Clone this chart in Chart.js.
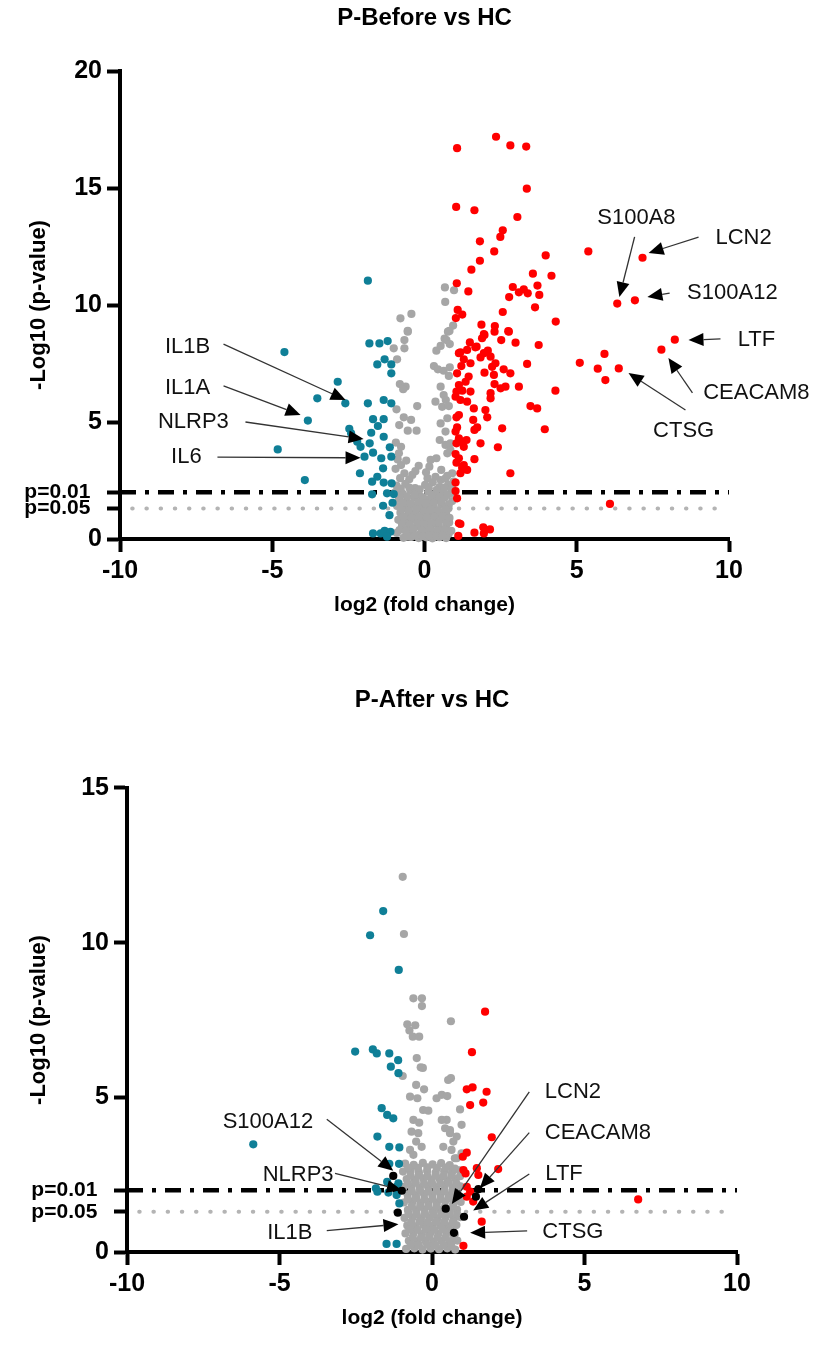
<!DOCTYPE html>
<html>
<head>
<meta charset="utf-8">
<script src="https://cdn.jsdelivr.net/npm/chart.js@4.4.1/dist/chart.umd.min.js"></script>
<style>
  html, body { margin: 0; padding: 0; background: #fff; }
  #wrap { position: relative; width: 819px; height: 1348px; }
  #c1 { position: absolute; left: 0; top: 0; }
  #c2 { position: absolute; left: 0; top: 660px; }
</style>
</head>
<body>
<div id="wrap">
  <canvas id="c1" width="819" height="650"></canvas>
  <canvas id="c2" width="819" height="688"></canvas>
</div>
<script>
// volcano plots: P-Before vs HC (top) and P-After vs HC (bottom)
// points are [log2 fold change, -log10 p]

const P01 = 2;    // -log10(0.01)
const P05 = 1.3;  // -log10(0.05)
const xTicks = [-10, -5, 0, 5, 10];
const yTicksBefore = [0, P05, P01, 5, 10, 15, 20];
const yTicksAfter = [0, P05, P01, 5, 10, 15];
const lineSpan01 = [-10, 10];
const lineSpan05 = [-9.6, 9.7];

// ---------- P-Before vs HC
const beforeUp = [
  [1.07,16.70],[2.35,17.19],[2.82,16.82],[3.34,16.77],[3.36,14.97],[1.04,14.19],[1.64,14.05],[3.05,13.76],
  [2.57,13.19],[2.49,12.91],[1.82,12.72],[2.29,12.29],[3.98,12.12],[5.38,12.29],[7.16,12.02],[1.82,11.89],
  [1.54,11.51],[3.56,11.34],[4.17,11.25],[1.06,10.93],[1.44,10.58],[2.90,10.77],[3.10,10.54],[3.26,10.67],
  [3.39,10.50],[3.71,10.83],[3.77,10.43],[2.78,10.34],[6.33,10.06],[6.91,10.20],[3.63,9.90],[2.57,9.70],
  [1.09,9.79],[1.24,9.59],[1.03,9.44],[4.31,9.29],[1.87,9.16],[2.31,9.10],[2.75,8.88],[1.97,8.72],
  [2.30,8.86],[2.77,8.86],[2.52,8.50],[2.99,8.39],[3.75,8.29],[1.95,8.76],[1.89,8.58],[1.49,8.40],
  [1.67,8.19],[8.22,8.52],[7.78,8.09],[1.13,7.94],[1.40,8.08],[1.71,8.22],[1.95,7.94],[2.08,8.05],
  [1.84,7.76],[2.17,7.79],[1.18,7.98],[5.91,7.91],[5.10,7.53],[5.69,7.28],[6.38,7.29],[5.94,6.79],
  [1.29,7.68],[1.51,7.51],[1.21,7.39],[2.33,7.51],[2.22,7.36],[2.60,7.25],[3.37,7.48],[1.07,7.08],
  [1.45,6.94],[1.97,7.11],[2.28,7.01],[2.82,7.08],[1.35,6.72],[1.13,6.58],[2.30,6.62],[2.50,6.44],
  [2.66,6.51],[3.10,6.51],[4.30,6.34],[1.05,6.30],[1.24,6.34],[1.51,6.30],[1.02,6.08],[1.18,5.94],
  [1.40,5.87],[2.17,6.23],[2.17,6.01],[1.62,5.58],[2.00,5.51],[2.06,5.20],[1.05,5.20],[1.13,5.30],
  [3.48,5.68],[3.70,5.58],[1.60,5.09],[1.73,4.77],[1.64,4.66],[1.07,4.77],[1.02,4.59],[2.55,4.73],
  [3.95,4.69],[1.13,4.30],[1.24,4.16],[1.38,4.23],[1.05,4.09],[1.29,3.94],[1.84,4.09],[2.41,3.92],
  [1.02,3.63],[1.13,3.45],[1.05,3.26],[1.29,3.16],[1.24,3.06],[1.64,3.41],[1.25,3.02],[1.40,2.95],
  [1.18,2.81],[2.82,2.81],[1.02,2.41],[1.02,2.05],[1.07,1.74],[6.09,1.50],[1.13,0.67],[1.18,0.64],
  [1.64,0.27],[1.93,0.50],[1.95,0.24],[2.15,0.41],[1.11,0.13]
];
const beforeDown = [
  [-4.60,7.99],[-1.86,11.04],[-1.81,8.36],[-1.48,8.36],[-1.21,8.46],[-1.55,7.46],[-1.31,7.68],[-1.09,7.46],
  [-1.09,7.08],[-2.85,6.72],[-3.52,6.01],[-2.60,5.80],[-1.86,5.80],[-1.34,5.94],[-1.09,5.80],[-3.83,5.06],
  [-1.69,5.12],[-1.34,5.12],[-1.53,4.83],[-2.47,4.71],[-2.41,4.52],[-1.75,4.54],[-1.34,4.37],[-2.21,4.16],
  [-2.10,3.94],[-1.80,4.09],[-4.82,3.83],[-1.97,3.52],[-1.69,3.69],[-1.42,3.45],[-1.14,3.92],[-1.09,3.52],
  [-1.36,3.02],[-2.12,2.81],[-1.55,2.66],[-1.72,2.45],[-1.34,2.41],[-1.08,2.38],[-3.93,2.52],[-1.72,1.91],
  [-1.23,1.95],[-1.01,1.92],[-1.36,1.42],[-1.05,1.55],[-1.15,1.02],[-1.69,0.24],[-1.44,0.24],[-1.31,0.35],
  [-1.12,0.31],[-1.23,0.10]
];
const beforeGrey = [
  [-0.79,9.43],[-0.55,8.89],[-0.43,9.62],[0.67,10.75],[0.97,10.63],[0.68,10.13],[0.94,9.12],[0.82,8.89],
  [0.66,8.56],[-1.01,8.15],[-0.66,8.15],[-0.55,8.86],[0.77,8.86],[-0.66,8.50],[0.53,8.25],[0.72,8.50],
  [0.83,8.33],[0.39,8.05],[-0.90,7.68],[0.31,7.39],[0.44,7.25],[0.63,7.19],[0.83,7.34],[0.80,6.97],
  [-0.81,6.62],[-0.62,6.51],[-0.70,6.40],[0.53,6.51],[0.63,6.15],[0.70,5.94],[0.36,5.87],[0.58,5.65],
  [0.80,5.68],[-0.24,5.68],[-0.92,5.54],[-0.68,5.20],[-0.44,5.09],[-0.83,4.87],[-0.55,4.63],[-0.26,4.63],
  [0.53,4.94],[0.75,5.16],[0.69,4.59],[-0.94,4.12],[-0.77,3.94],[-0.84,3.66],[0.50,4.23],[0.69,4.02],
  [0.85,4.09],[0.75,3.66],[0.85,3.80],[-0.19,3.13],[0.16,3.09],[0.20,3.38],[0.39,3.45],[-0.77,3.16],
  [-0.66,2.81],[-0.40,2.74],[0.36,2.66],[0.53,2.52],[0.69,2.59],[0.91,2.81],[0.96,2.45],[-0.88,3.40],
  [-0.95,3.00],[-0.60,3.35],[-0.80,2.60],[-0.50,2.55],[0.10,2.60],[0.75,2.70],[-0.30,2.90],[0.05,2.85],
  [0.55,2.95],
  [-0.92,2.28],[-0.63,2.36],[-0.31,2.18],[0.02,2.31],[0.27,2.42],[0.49,2.22],[0.78,2.33],
  [-0.97,1.98],[-0.71,1.93],[-0.46,2.07],[-0.18,1.88],[0.12,2.02],[0.36,1.94],[0.61,2.08],[0.86,1.96],
  [-0.84,1.72],[-0.58,1.63],[-0.33,1.77],[-0.08,1.58],[0.17,1.71],[0.42,1.66],[0.66,1.76],[0.91,1.62],
  [-0.90,1.41],[-0.66,1.33],[-0.41,1.46],[-0.14,1.29],[0.06,1.42],[0.31,1.36],[0.56,1.47],[0.79,1.31],
  [-0.79,1.12],[-0.54,1.04],[-0.29,1.16],[-0.04,0.99],[0.21,1.11],[0.46,1.06],[0.71,1.12],
  [-0.86,0.82],[-0.61,0.74],[-0.36,0.86],[-0.11,0.69],[0.11,0.81],[0.36,0.76],[0.59,0.86],[0.81,0.71],
  [-0.74,0.51],[-0.49,0.44],[-0.24,0.56],[0.01,0.46],[0.21,0.52],[0.46,0.56],[0.69,0.46],
  [-0.91,0.26],[-0.59,0.19],[-0.39,0.31],[-0.14,0.21],[0.09,0.27],[0.31,0.19],[0.54,0.29],[0.79,0.21],
  [-0.69,0.05],[-0.44,0.09],[-0.19,0.04],[0.06,0.07],[0.26,0.03],[0.49,0.08],[0.71,0.04],
  [-0.78,2.15],[-0.50,2.20],[-0.16,2.12],[0.14,2.17],[0.40,2.10],[0.66,2.20],[0.90,2.15],
  [-0.82,1.85],[-0.57,1.80],[-0.32,1.90],[-0.05,1.78],[0.25,1.84],[0.50,1.80],[0.75,1.88],
  [-0.72,1.55],[-0.46,1.50],[-0.20,1.57],[0.05,1.52],[0.30,1.55],[0.55,1.60],[0.80,1.48],
  [-0.78,1.25],[-0.52,1.20],[-0.27,1.28],[-0.02,1.18],[0.20,1.25],[0.44,1.20],[0.68,1.27],
  [-0.68,0.95],[-0.42,0.90],[-0.17,0.97],[0.08,0.92],[0.33,0.95],[0.58,0.98],[0.82,0.90],
  [-0.74,0.65],[-0.48,0.60],[-0.23,0.68],[0.00,0.62],[0.24,0.65],[0.47,0.70],[0.72,0.62],
  [-0.82,0.38],[-0.62,0.35],[-0.37,0.42],[-0.10,0.36],[0.18,0.40],[0.42,0.35],[0.66,0.39],[0.88,0.35],
  [-0.56,0.10],[-0.32,0.14],[-0.06,0.12],[0.16,0.15],[0.38,0.12],[0.60,0.14]
];
const beforeNotes = [
  {label:'IL1B',    tx:-7.78, ty:8.21,  sx:-6.60, sy:8.33,  ex:-2.59, ey:5.94},
  {label:'IL1A',    tx:-7.78, ty:6.45,  sx:-6.60, sy:6.54,  ex:-4.07, ey:5.30},
  {label:'NLRP3',   tx:-7.59, ty:5.00,  sx:-5.88, sy:5.00,  ex:-2.00, ey:4.27},
  {label:'IL6',     tx:-7.82, ty:3.50,  sx:-6.80, sy:3.50,  ex:-2.10, ey:3.47},
  {label:'S100A8',  tx:6.96,  ty:13.72, sx:6.90,  sy:12.91, ex:6.40,  ey:10.34},
  {label:'LCN2',    tx:10.48, ty:12.86, sx:9.00,  sy:12.90, ex:7.36,  ey:12.22},
  {label:'S100A12', tx:10.11, ty:10.51, sx:8.05,  sy:10.51, ex:7.32,  ey:10.34},
  {label:'LTF',     tx:10.90, ty:8.50,  sx:9.72,  sy:8.55,  ex:8.67,  ey:8.50},
  {label:'CEACAM8', tx:10.90, ty:6.24,  sx:8.80,  sy:6.24,  ex:8.01,  ey:7.74},
  {label:'CTSG',    tx:8.51,  ty:4.62,  sx:8.57,  sy:5.51,  ex:6.70,  ey:7.09}
];

// ---------- P-After vs HC
const afterUp = [
  [1.74,7.77],[1.31,6.46],[1.14,5.26],[1.33,5.32],[1.79,5.18],[1.25,4.75],[1.68,4.83],[1.96,3.71],
  [1.01,3.08],[1.14,3.21],[1.03,2.65],[1.47,2.71],[2.17,2.68],[1.10,2.54],[1.52,2.49],[6.76,1.70],
  [1.14,1.79],[1.35,1.63],[1.63,0.98],[1.03,0.20],[1.14,2.11],[1.25,1.95]
];
const afterDown = [
  [-1.60,11.02],[-2.03,10.24],[-1.09,9.12],[-2.52,6.48],[-1.94,6.55],[-1.81,6.42],[-1.40,6.42],[-1.11,6.20],
  [-1.35,5.99],[-1.10,5.78],[-5.86,3.48],[-1.65,4.65],[-1.47,4.43],[-1.27,4.32],[-1.79,3.73],[-1.40,3.40],
  [-1.07,3.38],[-1.40,2.85],[-1.08,2.85],[-1.47,2.27],[-1.10,2.22],[-1.84,2.06],[-1.79,1.95],[-1.43,1.92],
  [-1.16,1.84],[-1.16,2.11],[-1.07,1.57],[-1.49,0.26],[-1.16,0.26]
];
const afterMarked = [
  [-1.27,2.46],[-0.99,1.98],[-1.12,1.27],[0.45,1.40],[1.52,2.03],[1.44,1.79],[1.05,1.14],[0.72,0.62]
];
const afterGrey = [
  [-0.96,12.13],[-0.92,10.28],[-0.61,8.20],[-0.33,8.20],[-0.33,7.95],[0.62,7.46],[-0.81,7.36],[-0.55,7.33],
  [-0.74,7.16],[-0.63,6.96],[-0.42,6.96],[-0.50,6.27],[-0.37,5.97],[-0.30,5.95],[-0.96,5.69],[0.62,5.62],
  [-0.52,5.40],[-0.26,5.26],[0.53,5.56],[-0.72,5.02],[-0.48,4.97],[0.15,4.97],[0.32,5.08],[0.50,5.04],
  [0.92,4.61],[-0.29,4.59],[-0.12,4.57],[0.48,4.27],[0.43,4.00],[0.59,3.94],[0.97,4.11],[0.81,3.73],
  [-0.61,4.27],[-0.42,4.18],[-0.67,3.89],[-0.45,3.84],[-0.52,3.57],[-0.34,3.40],[-0.72,3.30],[-0.61,3.14],
  [0.32,4.27],[0.59,3.84],[0.70,3.57],[0.37,3.40],[0.64,3.30],[0.81,3.03],[0.97,3.19],[0.75,3.03],
  [-0.88,2.86],[-0.60,2.82],[-0.30,2.88],[0.02,2.83],[0.30,2.87],[0.58,2.81],
  [-0.95,2.60],[-0.70,2.63],[-0.43,2.58],[-0.16,2.62],[0.12,2.57],[0.40,2.61],[0.66,2.59],[0.90,2.64],
  [-0.83,2.36],[-0.56,2.33],[-0.29,2.38],[-0.02,2.34],[0.25,2.37],[0.52,2.32],[0.78,2.36],
  [-0.93,2.10],[-0.67,2.12],[-0.40,2.08],[-0.13,2.11],[0.14,2.09],[0.41,2.13],[0.68,2.07],[0.93,2.12],
  [-0.80,1.86],[-0.53,1.83],[-0.26,1.87],[0.01,1.84],[0.28,1.86],[0.55,1.82],[0.81,1.87],
  [-0.92,1.60],[-0.65,1.62],[-0.38,1.58],[-0.11,1.61],[0.16,1.59],[0.43,1.63],[0.70,1.58],[0.94,1.62],
  [-0.79,1.36],[-0.52,1.33],[-0.25,1.37],[0.02,1.34],[0.29,1.36],[0.56,1.32],[0.82,1.37],
  [-0.90,1.10],[-0.63,1.12],[-0.36,1.08],[-0.09,1.11],[0.18,1.09],[0.45,1.12],[0.72,1.08],[0.93,1.13],
  [-0.81,0.86],[-0.54,0.83],[-0.27,0.87],[0.00,0.84],[0.27,0.86],[0.54,0.83],[0.80,0.87],
  [-0.87,0.60],[-0.60,0.62],[-0.33,0.58],[-0.06,0.61],[0.21,0.59],[0.48,0.62],[0.75,0.58],
  [-0.76,0.36],[-0.49,0.33],[-0.22,0.37],[0.05,0.34],[0.32,0.36],[0.59,0.33],[0.83,0.37],
  [-0.85,0.10],[-0.58,0.12],[-0.31,0.08],[-0.04,0.11],[0.23,0.09],[0.50,0.12],[0.76,0.08],
  [-0.78,2.72],[-0.46,2.72],[-0.15,2.74],[0.16,2.71],[0.45,2.73],[0.75,2.70],
  [-0.70,2.47],[-0.43,2.48],[-0.15,2.45],[0.12,2.47],[0.38,2.46],[0.64,2.49],[0.92,2.45],
  [-0.80,2.22],[-0.53,2.24],[-0.26,2.21],[0.00,2.23],[0.27,2.22],[0.55,2.24],[0.80,2.21],
  [-0.66,1.97],[-0.39,1.98],[-0.12,1.96],[0.15,1.98],[0.42,1.97],[0.69,1.96],
  [-0.79,1.72],[-0.52,1.74],[-0.25,1.71],[0.02,1.73],[0.29,1.72],[0.56,1.74],[0.82,1.71],
  [-0.66,1.48],[-0.39,1.47],[-0.12,1.49],[0.15,1.48],[0.42,1.46],[0.69,1.49],
  [-0.77,1.23],[-0.50,1.22],[-0.23,1.24],[0.04,1.23],[0.31,1.22],[0.58,1.24],[0.83,1.22],
  [-0.68,0.97],[-0.41,0.98],[-0.14,0.96],[0.13,0.98],[0.40,0.97],[0.67,0.96],
  [-0.74,0.73],[-0.47,0.72],[-0.20,0.74],[0.07,0.72],[0.34,0.73],[0.61,0.71],
  [-0.63,0.48],[-0.36,0.47],[-0.09,0.49],[0.18,0.47],[0.45,0.48],[0.71,0.47],
  [-0.70,0.23],[-0.43,0.22],[-0.16,0.24],[0.11,0.22],[0.37,0.23],[0.63,0.22]
];
const afterNotes = [
  {label:'S100A12', tx:-5.38, ty:4.20, sx:-3.45, sy:4.29, ex:-1.27, ey:2.63},
  {label:'NLRP3',   tx:-4.39, ty:2.49, sx:-3.18, sy:2.54, ex:-0.99, ey:2.00},
  {label:'IL1B',    tx:-4.66, ty:0.62, sx:-3.45, sy:0.69, ex:-1.10, ey:0.90},
  {label:'LCN2',    tx:4.62,  ty:5.18, sx:3.19,  sy:5.18, ex:0.65,  ey:1.55},
  {label:'CEACAM8', tx:5.44,  ty:3.84, sx:3.19,  sy:3.86, ex:1.57,  ey:2.06},
  {label:'LTF',     tx:4.33,  ty:2.52, sx:3.19,  sy:2.52, ex:1.35,  ey:1.34},
  {label:'CTSG',    tx:4.62,  ty:0.66, sx:3.12,  sy:0.68, ex:1.25,  ey:0.62}
];

const FONT = "'Liberation Sans', Arial, Helvetica, sans-serif";
Chart.defaults.font.family = FONT;
Chart.defaults.color = '#000';

const RED = '#ff0000', TEAL = '#0f7f97', GREY = '#a6a6a6', BLACK = '#000000';

const toXY = arr => arr.map(p => ({x: p[0], y: p[1]}));

// text labels with arrows, placed in data units
const arrowPlugin = {
  id: 'arrows',
  afterDatasetsDraw(chart, args, opts){
    const {ctx} = chart;
    const xs = chart.scales.x, ys = chart.scales.y;
    ctx.save();
    ctx.font = '22px ' + FONT;
    ctx.textAlign = 'center';
    ctx.textBaseline = 'middle';
    (opts.items || []).forEach(a => {
      const sx = xs.getPixelForValue(a.sx), sy = ys.getPixelForValue(a.sy);
      const ex = xs.getPixelForValue(a.ex), ey = ys.getPixelForValue(a.ey);
      const ang = Math.atan2(ey - sy, ex - sx);
      const L = 15, W = 6.5;
      const bx = ex - L*Math.cos(ang), by = ey - L*Math.sin(ang);
      ctx.strokeStyle = '#333';
      ctx.lineWidth = 1.3;
      ctx.beginPath(); ctx.moveTo(sx, sy); ctx.lineTo(bx, by); ctx.stroke();
      ctx.fillStyle = '#000';
      ctx.beginPath();
      ctx.moveTo(ex, ey);
      ctx.lineTo(bx + W*Math.sin(ang), by - W*Math.cos(ang));
      ctx.lineTo(bx - W*Math.sin(ang), by + W*Math.cos(ang));
      ctx.closePath(); ctx.fill();
      ctx.fillStyle = '#111';
      ctx.fillText(a.label, xs.getPixelForValue(a.tx), ys.getPixelForValue(a.ty));
    });
    ctx.restore();
  }
};

function pts(data, color, order){
  return {data: toXY(data), backgroundColor: color, borderWidth: 0, pointRadius: 4.1,
          showLine: false, clip: false, order: order};
}

function makeVolcano(id, o){
  const ctx = document.getElementById(id).getContext('2d');
  return new Chart(ctx, {
    type: 'scatter',
    data: {datasets: [
      {data: [{x: lineSpan01[0], y: P01}, {x: lineSpan01[1], y: P01}], showLine: true, pointRadius: 0,
       borderColor: '#000', borderWidth: 4.5, borderDash: [16, 9, 4, 9], clip: false, order: 10},
      {data: [{x: lineSpan05[0], y: P05}, {x: lineSpan05[1], y: P05}], showLine: true, pointRadius: 0,
       borderColor: '#b4b4b4', borderWidth: 4, borderDash: [0.5, 13.7], borderCapStyle: 'round', clip: false, order: 9},
      pts(o.grey, GREY, 4),
      pts(o.down, TEAL, 3),
      pts(o.up, RED, 2),
      pts(o.marked || [], BLACK, 1)
    ]},
    options: {
      responsive: false, animation: false, events: [],
      layout: {padding: {left: 0, right: o.padRight, top: 0, bottom: 0}},
      plugins: {
        legend: {display: false}, tooltip: {enabled: false},
        title: {display: true, text: o.title, fullSize: false, color: '#000',
                font: {size: 24, weight: 'bold'}, padding: {top: o.titleTop, bottom: o.titleBottom}},
        arrows: {items: o.notes}
      },
      scales: {
        x: {
          type: 'linear', min: -10, max: 10,
          afterBuildTicks: s => { s.ticks = xTicks.map(v => ({value: v})); },
          afterFit: s => { s.height = o.xHeight; },
          ticks: {color: '#000', font: {size: 25, weight: 'bold'}, padding: 4, maxRotation: 0, autoSkip: false},
          grid: {drawOnChartArea: false, drawTicks: true, tickLength: 13, tickWidth: 4, tickColor: '#000'},
          border: {display: true, width: 4, color: '#000'},
          title: {display: true, text: 'log2 (fold change)', color: '#000',
                  font: {size: 21, weight: 'bold'}, padding: {top: 0, bottom: o.xTitleBottom}}
        },
        y: {
          type: 'linear', min: 0, max: o.yMax,
          afterBuildTicks: s => { s.ticks = o.yTicks.map(v => ({value: v})); },
          afterFit: s => { s.width = o.yWidth; },
          ticks: {
            color: '#000', autoSkip: false, padding: 5,
            font: c => (c.tick && (c.tick.value === P01 || c.tick.value === P05))
              ? {size: 21, weight: 'bold'} : {size: 25, weight: 'bold'},
            callback: v => v === P01 ? 'p=0.01  ' : (v === P05 ? 'p=0.05  ' : String(v))
          },
          grid: {drawOnChartArea: false, drawTicks: true, tickLength: 13, tickWidth: 4, tickColor: '#000'},
          border: {display: true, width: 4, color: '#000'},
          title: {display: true, text: '-Log10 (p-value)', color: '#000',
                  font: {size: 22, weight: 'bold'}, padding: {top: 26, bottom: 0}}
        }
      }
    },
    plugins: [arrowPlugin]
  });
}

makeVolcano('c1', {
  title: 'P-Before vs HC', titleTop: 4, titleBottom: 38.2,
  up: beforeUp, down: beforeDown, grey: beforeGrey, notes: beforeNotes,
  yMax: 20, yTicks: yTicksBefore, yWidth: 120, xHeight: 111, padRight: 90, xTitleBottom: 32
});

makeVolcano('c2', {
  title: 'P-After vs HC', titleTop: 25.6, titleBottom: 73.6,
  up: afterUp, down: afterDown, grey: afterGrey, marked: afterMarked, notes: afterNotes,
  yMax: 15, yTicks: yTicksAfter, yWidth: 127, xHeight: 96, padRight: 82, xTitleBottom: 17
});
</script>
</body>
</html>
